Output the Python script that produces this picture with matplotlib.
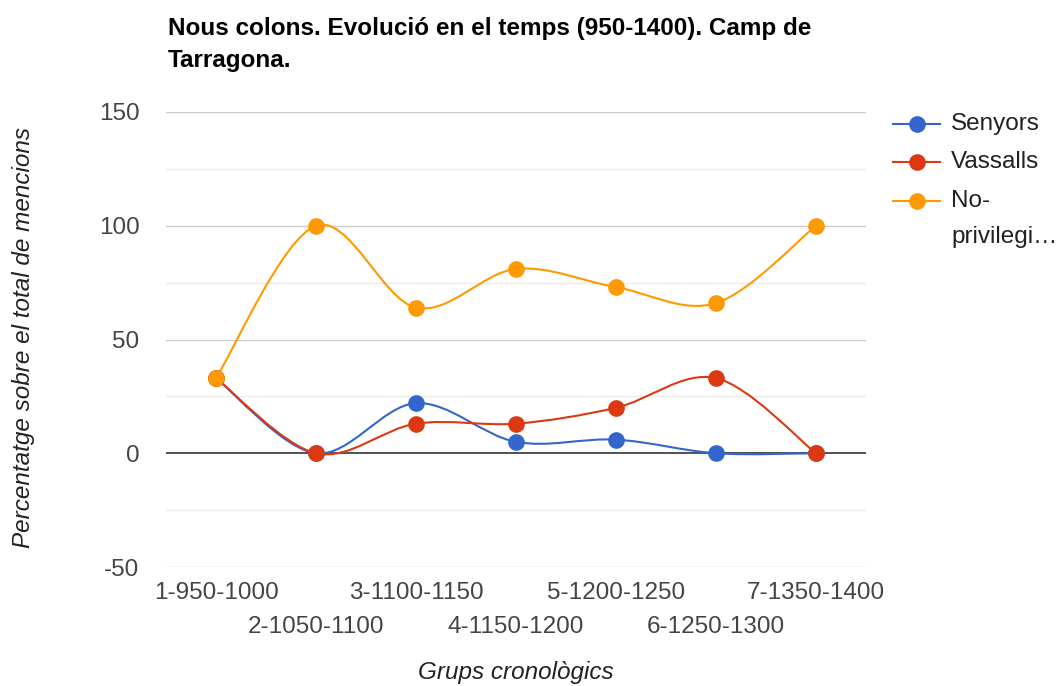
import matplotlib
matplotlib.use("Agg")
import matplotlib.pyplot as plt
from matplotlib.path import Path
from matplotlib.patches import PathPatch
from matplotlib.lines import Line2D

categories = ["1-950-1000", "2-1050-1100", "3-1100-1150", "4-1150-1200",
              "5-1200-1250", "6-1250-1300", "7-1350-1400"]
senyors = [33, 0, 22, 5, 6, 0, 0]
vassalls = [33, 0, 13, 13, 20, 33, 0]
no_priv = [33, 100, 64, 81, 73, 66, 100]
colors = ["#3366cc", "#dc3912", "#ff9900"]

FONT = "Liberation Sans"
plt.rcParams['font.family'] = [FONT, 'DejaVu Sans']
FS = 17.5
MS = 12

fig = plt.figure(figsize=(10.58, 6.86), dpi=100)
W, H = 1058, 686
ax = fig.add_axes([166 / W, 1 - 567 / H, 700 / W, 455 / H])
ax.set_xlim(-0.5, len(categories) - 0.5)
ax.set_ylim(-50, 150)

# gridlines
for v in [-25, 25, 75, 125]:
    ax.axhline(v, color="#ebebeb", lw=1, zorder=0)
for v in [-50, 50, 100, 150]:
    ax.axhline(v, color="#cccccc", lw=1, zorder=0)
ax.axhline(0, color="#333333", lw=1.2, zorder=1)

for s in ax.spines.values():
    s.set_visible(False)
ax.tick_params(length=0)


def smooth_path(xs, ys, k=1 / 6):
    n = len(xs)
    verts = [(xs[0], ys[0])]
    codes = [Path.MOVETO]
    for i in range(n - 1):
        i0 = max(i - 1, 0)
        i3 = min(i + 2, n - 1)
        c1 = (xs[i] + (xs[i + 1] - xs[i0]) * k, ys[i] + (ys[i + 1] - ys[i0]) * k)
        c2 = (xs[i + 1] - (xs[i3] - xs[i]) * k, ys[i + 1] - (ys[i3] - ys[i]) * k)
        verts += [c1, c2, (xs[i + 1], ys[i + 1])]
        codes += [Path.CURVE4] * 3
    return Path(verts, codes)


xs = list(range(len(categories)))
for data, col in zip([senyors, vassalls, no_priv], colors):
    patch = PathPatch(smooth_path(xs, data), facecolor="none", edgecolor=col, lw=1.5, zorder=3)
    ax.add_patch(patch)
for data, col in zip([senyors, vassalls, no_priv], colors):
    ax.plot(xs, data, linestyle="none", marker="o", markersize=MS, color=col,
            markeredgewidth=0, zorder=4)

ax.set_yticks([-50, 0, 50, 100, 150])
ax.set_yticklabels(["-50", "0", "50", "100", "150"], fontsize=FS, color="#444444")
ax.tick_params(axis="y", pad=19)

ax.set_xticks(xs)
ax.set_xticklabels([])
for i, c in enumerate(categories):
    ypix = 593 if i % 2 == 0 else 627
    fig.text((166 + 100 * i + 50) / W, 1 - ypix / H, c, ha="center", va="center",
             fontsize=FS, color="#444444")

fig.text(516 / W, 1 - 672 / H, "Grups cronològics", ha="center", va="center",
         fontsize=FS, style="italic", color="#222222")
fig.text(24 / W, 1 - 338 / H, "Percentatge sobre el total de mencions", ha="center",
         va="center", rotation=90, fontsize=FS, style="italic", color="#222222")

fig.text(168 / W, 1 - 28 / H, "Nous colons. Evolució en el temps (950-1400). Camp de",
         ha="left", va="center", fontsize=17.5, fontweight="bold", color="#000000")
fig.text(168 / W, 1 - 60 / H, "Tarragona.",
         ha="left", va="center", fontsize=17.5, fontweight="bold", color="#000000")

# legend
leg_y = [124, 162, 201]
for name, col, y in zip(["Senyors", "Vassalls", "No-"], colors, leg_y):
    fig.add_artist(Line2D([893 / W, 940 / W], [1 - y / H, 1 - y / H], color=col, lw=1.5,
                          transform=fig.transFigure))
    fig.add_artist(Line2D([916.5 / W], [1 - y / H], marker="o", markersize=MS, color=col,
                          markeredgewidth=0, transform=fig.transFigure))
    fig.text(951 / W, 1 - y / H, name, ha="left", va="center", fontsize=FS, color="#222222")
fig.text(951 / W, 1 - 237 / H, "privilegi…", ha="left", va="center", fontsize=FS, color="#222222")

fig.savefig("out.png", dpi=100, facecolor="white")
